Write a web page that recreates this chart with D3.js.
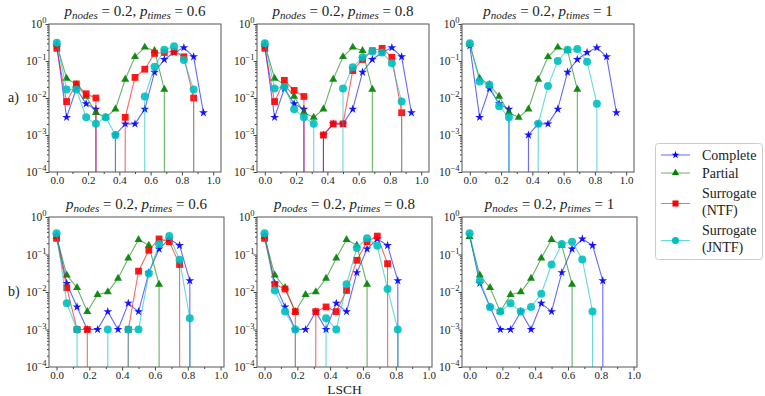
<!DOCTYPE html>
<html>
<head>
<meta charset="utf-8">
<script src="https://cdn.jsdelivr.net/npm/d3@7"></script>
<style>
body { margin: 0; background: #fff; }
text { font-family: "Liberation Serif", "DejaVu Serif", serif; fill: #222; }
</style>
</head>
<body>
<div id="chart"></div>
<script>
// LSCH bins
const lsch = [0, 0.0625, 0.125, 0.1875, 0.25, 0.3125, 0.375, 0.4375,
              0.5, 0.5625, 0.625, 0.6875, 0.75, 0.8125, 0.875, 0.9375];

// row a)
const completeA = [0.26, 0.003, 0.018, 0.007, 0.005, 0, 0.001, 0.002, 0.002, 0.005, 0.05, 0.11, 0.17, 0.23, 0.13, 0.004];
const partialA  = [0.28, 0.034, 0.023, 0.011, 0.004, 0.003, 0.005, 0.032, 0.13, 0.235, 0.19, 0.017, 0, 0, 0, 0];
const ntfA06  = [0.22, 0.008, 0.024, 0.013, 0.01, 0, 0, 0.003, 0.036, 0.06, 0.16, 0.17, 0.18, 0.13, 0.01, 0];
const jntfA06 = [0.31, 0.017, 0.017, 0.003, 0.002, 0.003, 0.001, 0, 0, 0.011, 0.07, 0.2, 0.25, 0.107, 0.017, 0];
const ntfA08  = [0.22, 0.008, 0.03, 0.016, 0.011, 0, 0.001, 0.002, 0.002, 0.055, 0.11, 0.19, 0.22, 0.126, 0.004, 0];
const jntfA08 = [0.3, 0.018, 0.02, 0.005, 0.003, 0.002, 0, 0, 0.018, 0.068, 0.126, 0.18, 0.17, 0.087, 0.008, 0];
const jntfA1  = [0.3, 0.028, 0.023, 0.006, 0.003, 0, 0, 0.002, 0.021, 0.1, 0.2, 0.21, 0.096, 0.007, 0, 0];

// row b)
const completeB = [0.33, 0.017, 0.004, 0.001, 0.001, 0.003, 0.001, 0.005, 0.003, 0.033, 0.14, 0.26, 0.175, 0.02, 0, 0];
const partialB  = [0.3, 0.028, 0.013, 0.003, 0.0085, 0.01, 0.023, 0.08, 0.25, 0.175, 0.016, 0, 0, 0, 0, 0];
const ntfB06  = [0.27, 0.013, 0.001, 0.001, 0, 0, 0, 0.001, 0.036, 0.13, 0.26, 0.22, 0.054, 0, 0, 0];
const jntfB06 = [0.37, 0.005, 0.001, 0, 0, 0.001, 0, 0.001, 0.001, 0.031, 0.19, 0.31, 0.073, 0.002, 0, 0];
const ntfB08  = [0.27, 0.016, 0.012, 0.003, 0, 0.003, 0.004, 0.003, 0.011, 0.07, 0.22, 0.31, 0.057, 0, 0, 0];
const jntfB08 = [0.37, 0.011, 0.003, 0.001, 0, 0, 0.002, 0.001, 0.016, 0.15, 0.27, 0.17, 0.012, 0.001, 0, 0];
const jntfB1  = [0.37, 0.02, 0.004, 0.003, 0.005, 0.003, 0.004, 0.009, 0.054, 0.19, 0.22, 0.074, 0.003, 0, 0, 0];

const ptimes = ["0.6", "0.8", "1"];
const xTicks = [0, 0.2, 0.4, 0.6, 0.8, 1.0];
const xMinor = [0.1, 0.3, 0.5, 0.7, 0.9];
const yTicks = [1e-4, 1e-3, 1e-2, 1e-1, 1];
const yLabels = ["\u22124", "\u22123", "\u22122", "\u22121", "0"];
const legendNames = [["Complete"], ["Partial"], ["Surrogate", "(NTF)"], ["Surrogate", "(JNTF)"]];

const styles = [
  {color: "#0000ff", sym: d3.symbolStar, size: 24},
  {color: "#008000", sym: d3.symbolTriangle, size: 28},
  {color: "#ff0000", sym: d3.symbolSquare, size: 46},
  {color: "#00bfbf", sym: d3.symbolCircle, size: 50}
];

const width = 765, height = 396;
const svg = d3.select("#chart").append("svg")
  .attr("width", width).attr("height", height);

const colLeft = [49, 257, 462];
const rows = [
  {top: 24, bottom: 172, w: 172, xdom: [-0.05, 1.05], label: "a)",
   series: [[completeA, partialA, ntfA06, jntfA06], [completeA, partialA, ntfA08, jntfA08], [completeA, partialA, null, jntfA1]]},
  {top: 217, bottom: 367, w: 175, xdom: [-0.046, 1.021], label: "b)",
   series: [[completeB, partialB, ntfB06, jntfB06], [completeB, partialB, ntfB08, jntfB08], [completeB, partialB, null, jntfB1]]}
];

let clipId = 0;
rows.forEach((r, ri) => {
  colLeft.forEach((L, ci) => {
    const x = d3.scaleLinear().domain(r.xdom).range([L, L + r.w]);
    const y = d3.scaleLog().domain([1e-4, 1]).range([r.bottom, r.top]);
    const g = svg.append("g");

    const id = "clip" + (clipId++);
    svg.append("clipPath").attr("id", id).append("rect")
      .attr("x", L).attr("y", r.top).attr("width", r.w).attr("height", r.bottom - r.top);

    // axes
    const xa = g.append("g").attr("transform", `translate(0,${r.bottom})`)
      .call(d3.axisBottom(x).tickValues(xTicks).tickFormat(d3.format(".1f")).tickSizeInner(3.5).tickSizeOuter(0).tickPadding(0.5));
    g.append("g").attr("transform", `translate(0,${r.bottom})`)
      .call(d3.axisBottom(x).tickValues(xMinor).tickFormat("").tickSizeInner(2).tickSizeOuter(0));
    xa.selectAll("text").attr("font-size", 11).attr("fill", "#222");

    const minorY = [];
    [1e-4, 1e-3, 1e-2, 1e-1].forEach(b => [2,3,4,5,6,7,8,9].forEach(k => minorY.push(b * k)));
    g.append("g").attr("transform", `translate(${L},0)`)
      .call(d3.axisLeft(y).tickValues(yTicks).tickFormat("").tickSizeInner(3.5).tickSizeOuter(0));
    g.append("g").attr("transform", `translate(${L},0)`)
      .call(d3.axisLeft(y).tickValues(minorY).tickFormat("").tickSizeInner(2).tickSizeOuter(0));
    g.selectAll(".domain").remove();
    g.selectAll(".tick line").attr("stroke", "#444");

    const yl = g.selectAll(".ylab").data(yTicks).join("text")
      .attr("class", "ylab")
      .attr("x", L - 2.5)
      .attr("y", d => y(d) + 4)
      .attr("text-anchor", "end")
      .attr("font-size", 11.5);
    yl.append("tspan").text("10");
    yl.append("tspan").attr("dy", -5).attr("font-size", 8.5).text((d, i) => yLabels[i]);

    // series
    const line = d3.line()
      .x((d, i) => x(lsch[i]))
      .y(d => y(d > 0 ? d : 1e-300));
    const plot = g.append("g").attr("clip-path", `url(#${id})`);
    r.series[ci].forEach((vals, si) => {
      if (!vals) return;
      const st = styles[si];
      plot.append("path").datum(vals)
        .attr("d", line)
        .attr("fill", "none")
        .attr("stroke", st.color)
        .attr("stroke-width", 1.1)
        .attr("stroke-opacity", 0.6);
      plot.selectAll(null)
        .data(vals.map((v, i) => [lsch[i], v]).filter(d => d[1] > 0))
        .join("path")
        .attr("transform", d => `translate(${x(d[0])},${y(d[1])})`)
        .attr("d", d3.symbol(st.sym, st.size))
        .attr("fill", st.color)
        .attr("fill-opacity", 0.9);
    });

    // frame
    g.append("rect")
      .attr("x", L).attr("y", r.top).attr("width", r.w).attr("height", r.bottom - r.top)
      .attr("fill", "none").attr("stroke", "#555").attr("stroke-width", 1);

    // title
    const t = g.append("text")
      .attr("x", L + r.w / 2).attr("y", r.top - 8.5)
      .attr("text-anchor", "middle").attr("font-size", 15);
    t.append("tspan").attr("font-style", "italic").text("p");
    t.append("tspan").attr("font-style", "italic").attr("font-size", 11).attr("dy", 3).text("nodes");
    t.append("tspan").attr("dy", -3).text(" = 0.2,  ");
    t.append("tspan").attr("font-style", "italic").text("p");
    t.append("tspan").attr("font-style", "italic").attr("font-size", 11).attr("dy", 3).text("times");
    t.append("tspan").attr("dy", -3).text(" = " + ptimes[ci]);
  });

  svg.append("text").attr("x", 8).attr("y", (r.top + r.bottom) / 2 + 4)
    .attr("font-size", 14).text(r.label);
});

svg.append("text")
  .attr("x", colLeft[1] + rows[1].w / 2).attr("y", 394)
  .attr("text-anchor", "middle").attr("font-size", 13.5).text("LSCH");

// legend
const leg = svg.append("g");
leg.append("rect").attr("x", 655.5).attr("y", 143.5).attr("width", 107).attr("height", 116)
  .attr("rx", 3).attr("fill", "#fff").attr("stroke", "#ccc").attr("stroke-width", 1);
const legY = [155, 173, 201.5, 238.5];
legendNames.forEach((names, i) => {
  const st = styles[i];
  const cy = legY[i];
  const my = names.length > 1 ? cy + 2 : cy;
  leg.append("line").attr("x1", 661).attr("x2", 690).attr("y1", my).attr("y2", my)
    .attr("stroke", st.color).attr("stroke-opacity", 0.6).attr("stroke-width", 1);
  leg.append("path").attr("transform", `translate(675.5,${my})`)
    .attr("d", d3.symbol(st.sym, st.size * 0.8)).attr("fill", st.color);
  names.forEach((n, k) => {
    leg.append("text").attr("x", 702)
      .attr("y", cy + 5 + (k - (names.length - 1) / 2) * 17)
      .attr("font-size", 14).text(n);
  });
});
</script>
</body>
</html>
